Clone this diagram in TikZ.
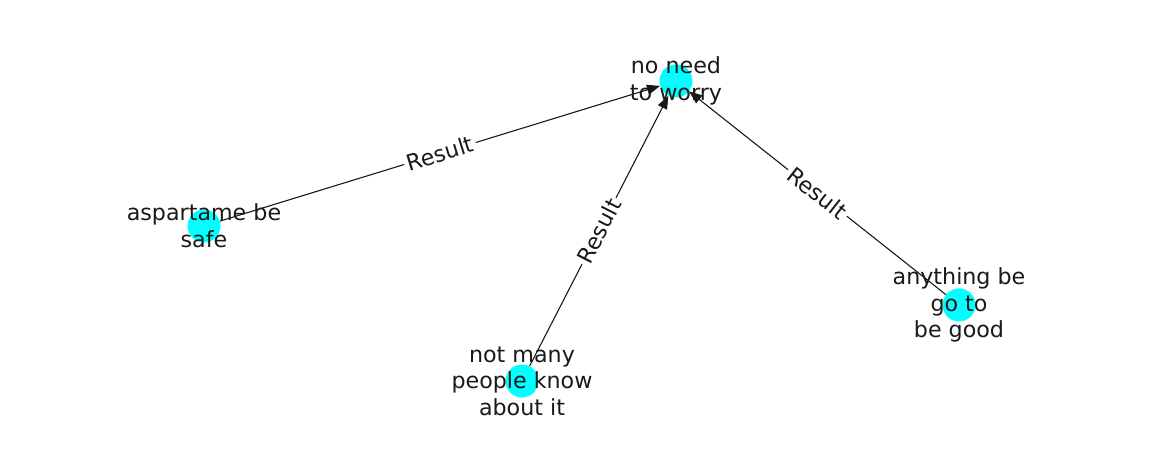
\documentclass[tikz,border=0pt]{standalone}
\usepackage{fontspec}
\setmainfont{DejaVu Sans}
\usetikzlibrary{arrows.meta}
\definecolor{nodecyan}{RGB}{0,255,255}
\begin{document}
\begin{tikzpicture}[x=1pt,y=-1pt,
  dot/.style={circle,fill=nodecyan,draw=none,minimum size=33pt,inner sep=0pt},
  lbl/.style={font=\fontsize{22.2}{26.6}\selectfont,align=center,text=black!90,inner sep=0pt},
  rel/.style={draw=black!90,line width=1.1pt,-{Triangle[length=13pt,width=10pt]}},
  elbl/.style={font=\fontsize{22.2}{26.6}\selectfont,fill=white,text=black!90,inner sep=3pt,sloped,midway}]
\useasboundingbox (0,0) rectangle (1162,462);
\node[dot] (n0) at (676,81) {};
\node[dot] (n1) at (204,226) {};
\node[dot] (n2) at (522,381) {};
\node[dot] (n3) at (959,305) {};
\draw[rel] (n1) -- (n0) node[elbl] {Result};
\draw[rel] (n2) -- (n0) node[elbl] {Result};
\draw[rel] (n3) -- (n0) node[elbl] {Result};
\node[lbl] (t0) at (676,81) {no need\\to worry};
\node[lbl] (t1) at (204,226) {aspartame be\\safe};
\node[lbl] (t2) at (522,381) {not many\\people know\\about it};
\node[lbl] (t3) at (959,305) {anything be\\go to\\be good};
\end{tikzpicture}
\end{document}
